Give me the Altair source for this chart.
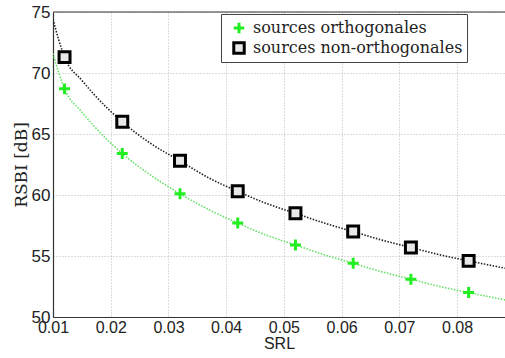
import altair as alt
import pandas as pd

# Curve samples (SRL -> RSBI in dB) for the two source configurations
srl_curve = [0.010, 0.011, 0.012, 0.015, 0.017, 0.022, 0.027, 0.032, 0.037, 0.042,
             0.047, 0.052, 0.057, 0.062, 0.067, 0.072, 0.077, 0.082, 0.0883]
rsbi_ortho_curve = [71.6, 70.0, 68.7, 66.8, 65.7, 63.4, 61.6, 60.1, 58.8, 57.7,
                    56.7, 55.9, 55.1, 54.4, 53.7, 53.1, 52.5, 52.0, 51.4]
rsbi_nonortho_curve = [74.4, 72.7, 71.3, 69.4, 68.3, 66.0, 64.2, 62.8, 61.4, 60.3,
                       59.3, 58.5, 57.7, 57.0, 56.3, 55.7, 55.1, 54.6, 54.0]

# Marker positions
srl_points = [0.012, 0.022, 0.032, 0.042, 0.052, 0.062, 0.072, 0.082]
rsbi_ortho_points = [68.7, 63.4, 60.1, 57.7, 55.9, 54.4, 53.1, 52.0]
rsbi_nonortho_points = [71.3, 66.0, 62.8, 60.3, 58.5, 57.0, 55.7, 54.6]

series = ["sources orthogonales", "sources non-orthogonales"]
x_ticks = [0.01, 0.02, 0.03, 0.04, 0.05, 0.06, 0.07, 0.08]
y_ticks = [50, 55, 60, 65, 70, 75]

curves = pd.concat([
    pd.DataFrame({"srl": srl_curve, "rsbi": rsbi_ortho_curve, "serie": series[0]}),
    pd.DataFrame({"srl": srl_curve, "rsbi": rsbi_nonortho_curve, "serie": series[1]}),
])
points = pd.concat([
    pd.DataFrame({"srl": srl_points, "rsbi": rsbi_ortho_points, "serie": series[0]}),
    pd.DataFrame({"srl": srl_points, "rsbi": rsbi_nonortho_points, "serie": series[1]}),
])

x_scale = alt.Scale(domain=[0.01, 0.0883], nice=False, zero=False)
y_scale = alt.Scale(domain=[50, 75], nice=False, zero=False)

x_axis = alt.Axis(values=x_ticks, format=".2f", title="SRL", ticks=False,
                  labelFont="Liberation Sans", labelFontSize=16, labelColor="#222222",
                  labelPadding=2, titleFont="Liberation Sans", titleFontSize=16,
                  titleFontWeight="normal", titleColor="#222222", titlePadding=0,
                  grid=True, gridColor="#bbbbbb", gridDash=[1, 2], gridWidth=1,
                  domainColor="#333333", domainWidth=1.2, labelFlush=False)
y_axis = alt.Axis(values=y_ticks, title="RSBI [dB]", ticks=False,
                  labelFont="Liberation Sans", labelFontSize=17, labelColor="#222222",
                  labelPadding=3, titleFont="DejaVu Serif", titleFontSize=17,
                  titleFontWeight="normal", titleColor="#222222", titlePadding=1,
                  grid=True, gridColor="#bbbbbb", gridDash=[1, 2], gridWidth=1,
                  domainColor="#333333", domainWidth=1.2, labelFlush=False)

# plus sign drawn as two stroked bars for the orthogonal series
plus_path = "M-1,0H1M0,-1V1"

stroke_scale = alt.Scale(domain=series, range=["#22ee22", "#000000"])
shape_scale = alt.Scale(domain=series, range=[plus_path, "square"])

legend = alt.Legend(title=None, orient="none", legendX=168, legendY=2,
                    labelFont="DejaVu Serif", labelFontSize=16, labelColor="#222222",
                    labelLimit=320, strokeColor="#444444", fillColor="white",
                    padding=4, symbolOffset=6, clipHeight=20, rowPadding=0,
                    symbolSize=110, symbolStrokeWidth=3, symbolFillColor="#e8e8e8",
                    labelOffset=6)

# line colours follow the alphabetical order of the series names
lines = alt.Chart(curves).mark_line(strokeWidth=1.6, strokeDash=[1.5, 1.5],
                                    interpolate="monotone", clip=True).encode(
    x=alt.X("srl:Q", scale=x_scale, axis=x_axis),
    y=alt.Y("rsbi:Q", scale=y_scale, axis=y_axis),
    color=alt.Color("serie:N", scale=alt.Scale(range=["#222222", "#66e066"]), legend=None),
)

marks = alt.Chart(points).mark_point(size=120, strokeWidth=3, opacity=1, filled=False,
                                     fill="#e8e8e8", fillOpacity=1).encode(
    x=alt.X("srl:Q", scale=x_scale),
    y=alt.Y("rsbi:Q", scale=y_scale),
    stroke=alt.Stroke("serie:N", scale=stroke_scale, legend=legend),
    shape=alt.Shape("serie:N", scale=shape_scale, legend=legend),
)

top_border = alt.Chart(pd.DataFrame({"rsbi": [75]})).mark_rule(
    color="#333333", strokeWidth=1.2).encode(y=alt.Y("rsbi:Q", scale=y_scale))

chart = alt.layer(lines, top_border, marks).properties(
    width=452, height=305,
    autosize=alt.AutoSizeParams(type="none"),
    padding={"left": 53, "top": 12, "right": 0, "bottom": 41},
    background="white",
).configure_view(stroke=None)

chart.save("out.html", embed_options={"renderer": "svg", "actions": False})
